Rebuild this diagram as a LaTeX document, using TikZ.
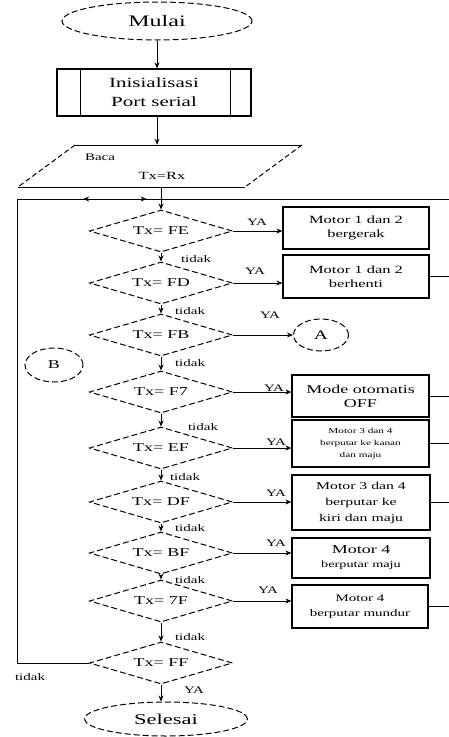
\documentclass[tikz,border=0pt]{standalone}
\usepackage{fontspec}
\setmainfont{Liberation Serif}[FakeStretch=1.5]
\usetikzlibrary{shapes.geometric,arrows.meta,decorations.markings}
\begin{document}
\begin{tikzpicture}[x=1pt,y=-1pt]
\tikzset{
 base/.style={inner sep=0pt, align=center, font=\fontsize{12}{14}\selectfont},
 term/.style={base, ellipse, draw, dash pattern=on 6pt off 3pt, line width=1pt},
 dec/.style={base, diamond, draw, dash pattern=on 6pt off 3pt, line width=1pt, aspect=3.7, minimum width=143pt, minimum height=42pt},
 proc/.style={base, rectangle, draw, line width=1.2pt},
 lbl/.style={inner sep=0pt, font=\fontsize{10}{11}\selectfont},
 ln/.style={line width=1pt},
 arr/.style={line width=1pt, -{Stealth[length=6pt,width=5pt]}},
 markleft/.style={decoration={markings,
   mark=at position 0.54 with {\arrow{Stealth[length=6pt,width=5pt]}},
   mark=at position 0.10 with {\arrowreversed{Stealth[length=6pt,width=5pt]}}},
   postaction=decorate}
}
\useasboundingbox (0,0) rectangle (449,737);

% start
\node[term, minimum width=190pt, minimum height=38pt, font=\fontsize{16}{18}\selectfont] (mulai) at (157,21) {Mulai};
\node[proc, minimum width=194pt, minimum height=47pt, font=\fontsize{14}{19}\selectfont] (init) at (154,92.5) {Inisialisasi\\Port serial};
\draw[ln] ([xshift=24pt]init.north west) -- ([xshift=24pt]init.south west);
\draw[ln] ([xshift=-21pt]init.north east) -- ([xshift=-21pt]init.south east);
\draw[arr] (mulai.south) -- (mulai.south |- init.north);

% input parallelogram
\coordinate (iotl) at (75,145);
\coordinate (iotr) at (302,145);
\coordinate (iobr) at (245,187);
\coordinate (iobl) at (18,187);
\node[minimum width=170pt, minimum height=42pt, inner sep=0pt] (io) at (161,166) {};
\draw[ln] (iotl) -- (iotr);
\draw[ln] (iobl) -- (iobr);
\draw[ln, dash pattern=on 5pt off 3pt] (iotr) -- (iobr);
\draw[ln, dash pattern=on 5pt off 3pt] (iotl) -- (iobl);
\node[lbl] (iot1) at (100,157) {Baca};
\node[lbl, font=\fontsize{11}{12}\selectfont] (iot2) at (162,176) {Tx=Rx};
\draw[arr] (init.south -| mulai) -- (mulai |- io.north);

% loop line
\coordinate (J) at (161,199);
\coordinate (L) at (17,199);
\coordinate (R) at (449,199);
\draw[ln] (io.south) -- (J);
\draw[ln] (R) -- (J);
\draw[ln, markleft] (J) -- (L);

% decisions
\node[dec] (d1) at (161,231) {Tx= FE};
\node[dec] (d2) at (161,283) {Tx= FD};
\node[dec] (d3) at (161,335) {Tx= FB};
\node[dec] (d4) at (161,392) {Tx= F7};
\node[dec] (d5) at (161,448) {Tx= EF};
\node[dec] (d6) at (161,502) {Tx= DF};
\node[dec] (d7) at (161,553) {Tx= BF};
\node[dec] (d8) at (161,601) {Tx= 7F};
\node[dec] (d9) at (161,663) {Tx= FF};

\draw[arr] (J) -- (d1.north);
\draw[arr] (d1.south) -- (d2.north);
\draw[arr] (d2.south) -- (d3.north);
\draw[arr] (d3.south) -- (d4.north);
\draw[arr] (d4.south) -- (d5.north);
\draw[arr] (d5.south) -- (d6.north);
\draw[arr] (d6.south) -- (d7.north);
\draw[arr] (d7.south) -- (d8.north);
\draw[arr] (d8.south) -- (d9.north);

\node[lbl] (t1) at (196,259) {tidak};
\node[lbl] (t2) at (190,311) {tidak};
\node[lbl] (t3) at (190,363) {tidak};
\node[lbl] (t4) at (203,427) {tidak};
\node[lbl] (t5) at (185,477) {tidak};
\node[lbl] (t6) at (190,528) {tidak};
\node[lbl] (t7) at (190,580) {tidak};
\node[lbl] (t8) at (190,637) {tidak};
\node[lbl] (t9) at (30,677) {tidak};

% actions
\node[proc, minimum width=146pt, minimum height=42pt, font=\fontsize{11}{14}\selectfont] (b1) at (356,228) {Motor 1 dan 2\\bergerak};
\node[proc, minimum width=146pt, minimum height=43pt, font=\fontsize{11}{14}\selectfont] (b2) at (356,276.5) {Motor 1 dan 2\\berhenti};
\node[term, minimum width=55pt, minimum height=32pt, font=\fontsize{13}{14}\selectfont] (A) at (321,335) {A};
\node[proc, minimum width=137pt, minimum height=42pt] (b3) at (360.5,396) {Mode otomatis\\OFF};
\node[proc, minimum width=137pt, minimum height=47pt, font=\fontsize{7.5}{12}\selectfont] (b4) at (360.5,443.5) {Motor 3 dan 4\\berputar ke kanan\\dan maju};
\node[proc, minimum width=138pt, minimum height=55pt, font=\fontsize{10.5}{16}\selectfont] (b5) at (361,502.5) {Motor 3 dan 4\\berputar ke\\kiri dan maju};
\node[proc, minimum width=138pt, minimum height=40pt] (b6) at (361,558) {{\fontsize{12}{15}\selectfont Motor 4}\\{\fontsize{9.5}{12}\selectfont berputar maju}};
\node[proc, minimum width=136pt, minimum height=43pt, font=\fontsize{10}{15}\selectfont] (b7) at (360,606.5) {Motor 4\\berputar mundur};
\node[term, minimum width=58pt, minimum height=34pt, font=\fontsize{12}{14}\selectfont] (B) at (54,365) {B};

\draw[arr] (d1.east) -- (d1.east -| b1.west);
\draw[arr] (d2.east) -- (d2.east -| b2.west);
\draw[arr] (d3.east) -- (A.west);
\draw[arr] (d4.east) -- (d4.east -| b3.west);
\draw[arr] (d5.east) -- (d5.east -| b4.west);
\draw[arr] (d6.east) -- (d6.east -| b5.west);
\draw[arr] (d7.east) -- (d7.east -| b6.west);
\draw[arr] (d8.east) -- (d8.east -| b7.west);

\node[lbl] (y1) at (257,222) {YA};
\node[lbl] (y2) at (255,271) {YA};
\node[lbl] (y3) at (270,315) {YA};
\node[lbl] (y4) at (274,388) {YA};
\node[lbl] (y5) at (276,442) {YA};
\node[lbl] (y6) at (276,493) {YA};
\node[lbl] (y7) at (276,543) {YA};
\node[lbl] (y8) at (268,590) {YA};
\node[lbl] (y9) at (194,690) {YA};

% return lines to the right edge
\draw[ln] (b2.east) -- (b2.east -| R);
\draw[ln] (b3.east) -- (b3.east -| R);
\draw[ln] (b4.east) -- (b4.east -| R);
\draw[ln] (b5.east) -- (b5.east -| R);
\draw[ln] (b7.east) -- (b7.east -| R);

% last decision
\draw[ln] (d9.west) -| (L);
\node[term, minimum width=163pt, minimum height=34pt, font=\fontsize{15}{17}\selectfont] (selesai) at (166,719) {Selesai};
\draw[arr] (d9.south) -- (d9.south |- selesai.north);
\end{tikzpicture}
\end{document}
